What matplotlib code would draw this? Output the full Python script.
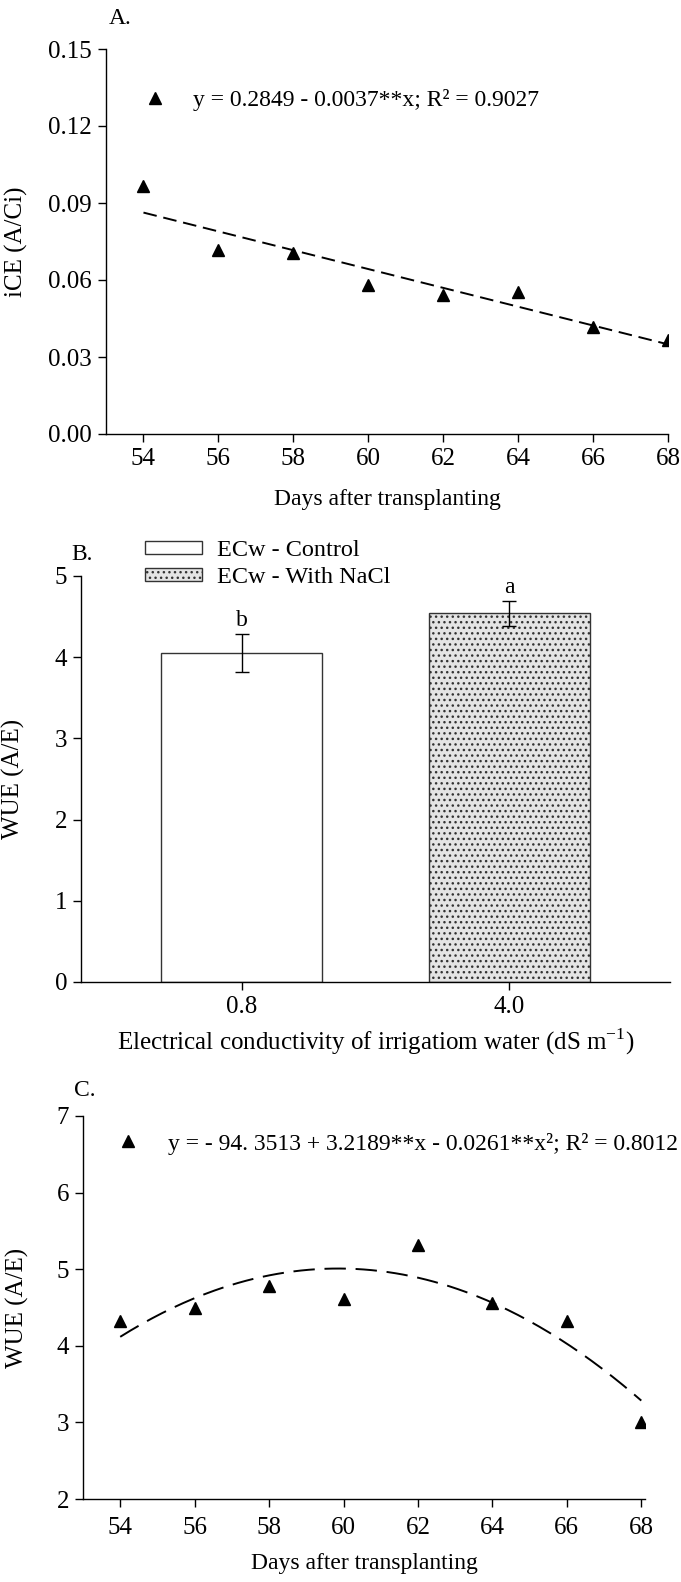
import numpy as np
import matplotlib.pyplot as plt
from matplotlib.lines import Line2D
from matplotlib.patches import Patch

plt.rcParams['font.family'] = ['Liberation Serif', 'DejaVu Serif']
plt.rcParams['mathtext.fontset'] = 'custom'
plt.rcParams['mathtext.rm'] = 'Liberation Serif'
plt.rcParams['hatch.linewidth'] = 1.0

# data
days = [54, 56, 58, 60, 62, 64, 66, 68]
ice = [0.0965, 0.0716, 0.0705, 0.0579, 0.0543, 0.0555, 0.0417, 0.0368]
wue_days = [4.33, 4.49, 4.78, 4.61, 5.32, 4.56, 4.33, 3.01]

ecw_labels = ['0.8', '4.0']
wue_ecw = [4.05, 4.54]
wue_err = [0.23, 0.15]
letters = ['b', 'a']
legend_b = ['ECw - Control', 'ECw - With NaCl']

eq_a = 'y = 0.2849 - 0.0037**x; R² = 0.9027'
eq_c = 'y = - 94. 3513 + 3.2189**x - 0.0261**x²; R² = 0.8012'

W, H = 681, 1582
fig = plt.figure(figsize=(W / 100, H / 100), dpi=100)


def add_axes(l, r, t, b):
    return fig.add_axes([l / W, 1 - b / H, (r - l) / W, (b - t) / H])


def style(ax):
    for s in ['top', 'right']:
        ax.spines[s].set_visible(False)
    for s in ['left', 'bottom']:
        ax.spines[s].set_linewidth(1.0)
    ax.tick_params(direction='out', length=6, width=1, labelsize=18, pad=4)


tri = Line2D([], [], marker='^', ls='none', color='k', ms=8)
xs = np.linspace(days[0], days[-1], 200)

# ---- A ----
axA = add_axes(106, 668, 49, 434)
style(axA)
axA.plot(days, ice, '^', color='k', ms=8)
ca = np.polyfit(days, ice, 1)
axA.plot(xs, np.polyval(ca, xs), color='k', lw=1.4, ls=(0, (7, 3.5)))
axA.set_xlim(53, 68)
axA.set_ylim(0, 0.15)
axA.set_xticks(days)
axA.set_yticks(np.arange(0, 0.151, 0.03))
axA.set_yticklabels(['%.2f' % v for v in np.arange(0, 0.151, 0.03)])
axA.set_xlabel('Days after transplanting', fontsize=17, labelpad=14)
axA.set_ylabel('iCE (A/Ci)', fontsize=18)
axA.yaxis.set_label_coords(-0.139, 0.5)
axA.legend([tri], [eq_a], loc='center left', bbox_to_anchor=(0.066, 0.868),
           frameon=False, fontsize=17, handlelength=1.0, handletextpad=1.1,
           borderpad=0, borderaxespad=0)
fig.text(120 / W, 1 - 18 / H, 'A.', fontsize=17, ha='center', va='center')

# ---- B ----
axB = add_axes(81, 670, 576, 982)
style(axB)
pos = np.arange(len(ecw_labels))
bars = axB.bar(pos, wue_ecw, width=0.6, yerr=wue_err, capsize=5,
               color=['white', '#e4e4e4'], edgecolor='#333333', linewidth=1.0,
               error_kw=dict(elinewidth=1, capthick=1, ecolor='k'))
bars[1].set_hatch('...')
for p, v, e, l in zip(pos, wue_ecw, wue_err, letters):
    axB.text(p, v + e + 0.04, l, ha='center', va='bottom', fontsize=17)
axB.set_xlim(-0.6, 1.6)
axB.set_ylim(0, 5)
axB.set_xticks(pos)
axB.set_xticklabels(ecw_labels)
axB.set_yticks(range(0, 6))
axB.set_xlabel('Electrical conductivity of irrigatiom water (dS m$^{\\mathregular{-1}}$)',
               fontsize=18, labelpad=6)
axB.set_ylabel('WUE (A/E)', fontsize=18)
axB.yaxis.set_label_coords(-0.095, 0.5)
hb = [Patch(facecolor='white', edgecolor='#333333'),
      Patch(facecolor='#e4e4e4', edgecolor='#333333', hatch='...')]
axB.legend(hb, legend_b, loc='upper left', bbox_to_anchor=(0.109, 1.088),
           frameon=False, fontsize=17.5, handlelength=2.35, handleheight=0.45,
           handletextpad=0.6, labelspacing=0.25, borderpad=0, borderaxespad=0)
fig.text(82 / W, 1 - 554 / H, 'B.', fontsize=17, ha='center', va='center')

# ---- C ----
axC = add_axes(83, 645, 1116, 1499)
style(axC)
axC.tick_params(axis='x', pad=7)
axC.plot(days, wue_days, '^', color='k', ms=8)
cc = np.polyfit(days, wue_days, 2)
axC.plot(xs, np.polyval(cc, xs), color='k', lw=1.4, ls=(0, (11, 5)))
axC.set_xlim(53, 68.1)
axC.set_ylim(2, 7)
axC.set_xticks(days)
axC.set_yticks(range(2, 8))
axC.set_xlabel('Days after transplanting', fontsize=17, labelpad=10)
axC.set_ylabel('WUE (A/E)', fontsize=18)
axC.yaxis.set_label_coords(-0.096, 0.5)
axC.legend([tri], [eq_c], loc='center left', bbox_to_anchor=(0.059, 0.928),
           frameon=False, fontsize=17, handlelength=1.0, handletextpad=1.2,
           borderpad=0, borderaxespad=0)
fig.text(85 / W, 1 - 1090 / H, 'C.', fontsize=17, ha='center', va='center')

fig.savefig('out.png', dpi=100)
